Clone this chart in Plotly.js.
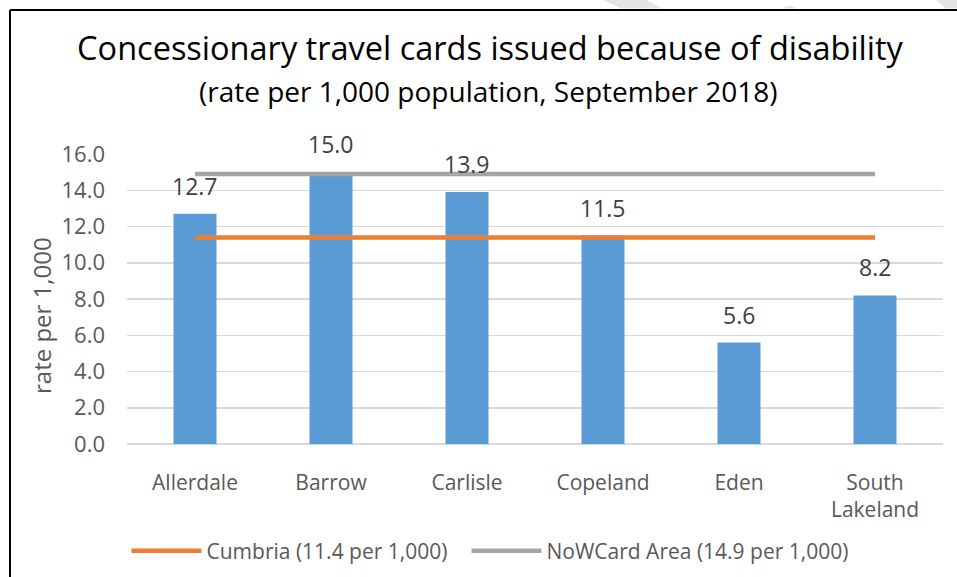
<!DOCTYPE html>
<html>
<head>
<meta charset="utf-8">
<script src="https://cdn.plot.ly/plotly-3.0.1.min.js"></script>
<style>
html,body{margin:0;padding:0;background:#fff;}
#chart{width:957px;height:577px;}
</style>
</head>
<body>
<div id="chart"></div>
<script>
// ---- data ----
const categories = ["Allerdale", "Barrow", "Carlisle", "Copeland", "Eden", "South Lakeland"];
const tickLabels = ["Allerdale", "Barrow", "Carlisle", "Copeland", "Eden", "South<br>Lakeland"];
const rates = [12.7, 15.0, 13.9, 11.5, 5.6, 8.2];
const cumbriaRate = [11.4, 11.4, 11.4, 11.4, 11.4, 11.4];
const nowcardRate = [14.9, 14.9, 14.9, 14.9, 14.9, 14.9];
const cumbriaName = "Cumbria (11.4 per 1,000)";
const nowcardName = "NoWCard Area (14.9 per 1,000)";
const titleText = "Concessionary travel cards issued because of disability";
const subtitleText = "(rate per 1,000 population, September 2018)";
const yTitle = "rate per 1,000";

// ---- layout geometry (pixels) ----
const W = 957, H = 577;
const L = 127, R = 943, T = 154, B = 444;
const xp = px => (px - L) / (R - L);
const yp = py => (B - py) / (B - T);
const FONT = "'Open Sans', sans-serif";
const TXT = "#595959";

const traces = [
  {
    type: "bar", x: categories, y: rates,
    marker: {color: "#5b9bd5"},
    showlegend: false, hoverinfo: "skip"
  },
  {
    type: "scatter", mode: "lines", x: categories, y: cumbriaRate,
    name: cumbriaName, legendwidth: 255,
    line: {color: "#ed7d31", width: 4.5},
    hoverinfo: "skip", cliponaxis: false
  },
  {
    type: "scatter", mode: "lines", x: categories, y: nowcardRate,
    name: nowcardName,
    line: {color: "#a5a5a5", width: 4.5},
    hoverinfo: "skip", cliponaxis: false
  }
];

const annotations = rates.map((v, i) => ({
  x: categories[i], y: v, xref: "x", yref: "y",
  text: v.toFixed(1), showarrow: false,
  yanchor: "middle", yshift: 28,
  font: {family: FONT, size: 23, color: "#404040"}
}));
annotations.push({
  xref: "paper", yref: "paper", x: xp(488), y: yp(91),
  xanchor: "center", yanchor: "middle", showarrow: false,
  text: subtitleText,
  font: {family: FONT, size: 28, color: "#000000"}
});
annotations.push({
  xref: "paper", yref: "paper", x: xp(41), y: yp(316),
  xanchor: "center", yanchor: "middle", showarrow: false,
  textangle: -90, text: yTitle,
  font: {family: FONT, size: 24, color: TXT}
});

const shapes = [
  // frame border (left & top)
  {type: "line", xref: "paper", yref: "paper", x0: xp(10), x1: xp(10), y0: yp(10), y1: yp(H + 2),
   line: {color: "#000000", width: 2}},
  {type: "line", xref: "paper", yref: "paper", x0: xp(10), x1: xp(W + 2), y0: yp(10), y1: yp(10),
   line: {color: "#000000", width: 2}},
  // faint diagonal marks above the frame
  {type: "path", xref: "paper", yref: "paper", fillcolor: "#e4e4e4", line: {width: 0},
   path: `M${xp(603)},${yp(0)} L${xp(646)},${yp(0)} L${xp(662)},${yp(8.5)} L${xp(621)},${yp(8.5)} Z`},
  {type: "path", xref: "paper", yref: "paper", fillcolor: "#e4e4e4", line: {width: 0},
   path: `M${xp(782)},${yp(8.5)} Q${xp(789)},${yp(3)} ${xp(797)},${yp(8.5)} Z`},
  {type: "path", xref: "paper", yref: "paper", fillcolor: "#e4e4e4", line: {width: 0},
   path: `M${xp(936)},${yp(0)} L${xp(958)},${yp(0)} L${xp(958)},${yp(8.5)} L${xp(946)},${yp(8.5)} Z`}
];

const layout = {
  width: W, height: H,
  margin: {l: L, r: W - R, t: T, b: H - B, pad: 0},
  paper_bgcolor: "#ffffff", plot_bgcolor: "#ffffff",
  font: {family: FONT, color: TXT},
  title: {
    text: titleText,
    font: {family: FONT, size: 32.5, color: "#000000"},
    xref: "container", x: 490 / W, xanchor: "center",
    yref: "container", y: 1 - 49 / H, yanchor: "middle"
  },
  bargap: 0.684,
  xaxis: {
    type: "category", tickvals: categories, ticktext: tickLabels,
    showgrid: false, zeroline: false, showline: false, ticks: "",
    tickfont: {family: FONT, size: 21, color: TXT},
    ticklabelstandoff: 24, fixedrange: true
  },
  yaxis: {
    range: [0, 16], dtick: 2, tick0: 0, tickformat: ".1f",
    showgrid: true, gridcolor: "#d9d9d9", gridwidth: 1.5,
    zeroline: true, zerolinecolor: "#d9d9d9", zerolinewidth: 1.5,
    showline: false, ticks: "",
    tickfont: {family: FONT, size: 22, color: TXT},
    ticklabelstandoff: 21, fixedrange: true
  },
  showlegend: true,
  legend: {
    orientation: "h",
    xref: "container", x: 490 / W, xanchor: "center",
    yref: "container", y: 1 - 551 / H, yanchor: "middle",
    font: {family: FONT, size: 21, color: TXT},
    itemwidth: 70, traceorder: "normal", bgcolor: "rgba(0,0,0,0)"
  },
  annotations: annotations,
  shapes: shapes
};

Plotly.newPlot("chart", traces, layout, {displayModeBar: false, staticPlot: true});
</script>
</body>
</html>
